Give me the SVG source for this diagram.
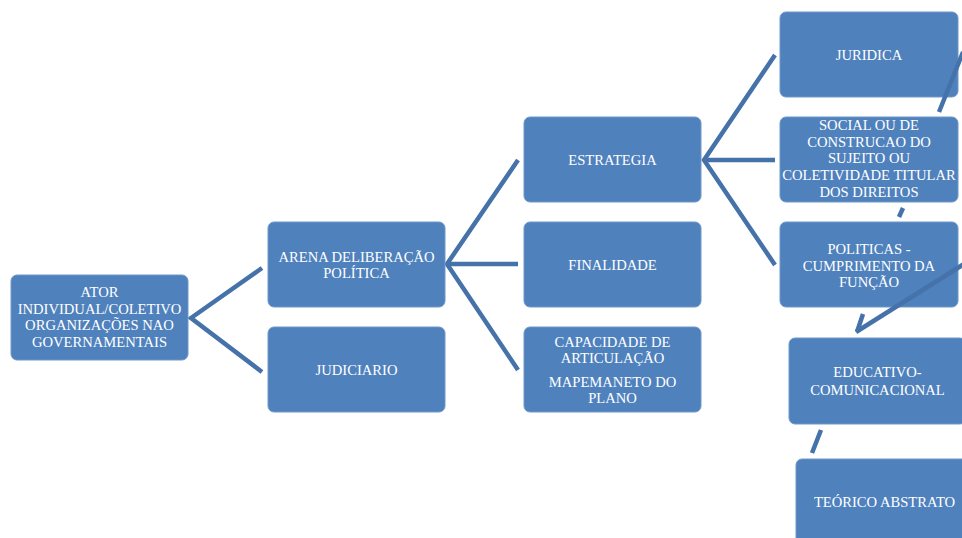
<svg xmlns="http://www.w3.org/2000/svg" width="962" height="538" viewBox="0 0 962 538">
<style>
.box{fill:#4f81bd;stroke:#6f97c9;stroke-width:1}
.t{font-family:"Liberation Serif","DejaVu Serif",serif;font-size:14.6px;fill:#ffffff;text-anchor:middle}
.c{fill:none;stroke:#4672aa;stroke-width:4.5;stroke-linejoin:miter;stroke-linecap:butt}
</style>
<rect width="962" height="538" fill="#ffffff"/>
<g id="connectors">
<polyline class="c" points="262,268 191,318 262,372"/>
<polyline class="c" points="518,160 447,264 518,370"/>
<line class="c" x1="447" y1="264" x2="518" y2="264"/>
<polyline class="c" points="775,55 704,160 775,265"/>
<line class="c" x1="704" y1="160" x2="775" y2="160"/>
</g>
<g id="n1"><rect class="box" x="11" y="275" width="177" height="85" rx="6"/>
<text class="t" x="99.5" y="297">ATOR</text>
<text class="t" x="99.5" y="313.5">INDIVIDUAL/COLETIVO</text>
<text class="t" x="99.5" y="330">ORGANIZAÇÕES NAO</text>
<text class="t" x="99.5" y="346.7">GOVERNAMENTAIS</text></g>
<g id="n2"><rect class="box" x="268" y="222" width="177" height="85" rx="6"/>
<text class="t" x="356.5" y="261.5">ARENA DELIBERAÇÃO</text>
<text class="t" x="356.5" y="278">POLÍTICA</text></g>
<g id="n3"><rect class="box" x="268" y="327" width="177" height="85" rx="6"/>
<text class="t" x="356.5" y="375">JUDICIARIO</text></g>
<g id="n4"><rect class="box" x="524" y="117" width="177" height="85" rx="6"/>
<text class="t" x="612.5" y="165">ESTRATEGIA</text></g>
<g id="n5"><rect class="box" x="524" y="222" width="177" height="85" rx="6"/>
<text class="t" x="612.5" y="270">FINALIDADE</text></g>
<g id="n6"><rect class="box" x="524" y="327" width="177" height="85" rx="6"/>
<text class="t" x="612.5" y="346.5">CAPACIDADE DE</text>
<text class="t" x="612.5" y="363">ARTICULAÇÃO</text>
<text class="t" x="612.5" y="386.5">MAPEMANETO DO</text>
<text class="t" x="612.5" y="403">PLANO</text></g>
<g id="n7"><rect class="box" x="780" y="12" width="178" height="85" rx="6"/>
<text class="t" x="869" y="60">JURIDICA</text></g>
<g id="n8"><rect class="box" x="780" y="117" width="178" height="85" rx="6"/>
<text class="t" x="869" y="130">SOCIAL OU DE</text>
<text class="t" x="869" y="146.7">CONSTRUCAO DO</text>
<text class="t" x="869" y="163.4">SUJEITO OU</text>
<text class="t" x="869" y="180.1">COLETIVIDADE TITULAR</text>
<text class="t" x="869" y="196.8">DOS DIREITOS</text></g>
<g id="n9"><rect class="box" x="780" y="222" width="178" height="85" rx="6"/>
<text class="t" x="869" y="254">POLITICAS -</text>
<text class="t" x="869" y="270.5">CUMPRIMENTO DA</text>
<text class="t" x="869" y="287">FUNÇÃO</text></g>
<g id="n10"><rect class="box" x="789" y="338" width="177" height="86" rx="6"/>
<text class="t" x="877.5" y="376.5">EDUCATIVO-</text>
<text class="t" x="877.5" y="395">COMUNICACIONAL</text></g>
<g id="n11"><rect class="box" x="796" y="459" width="177" height="86" rx="6"/>
<text class="t" x="884.5" y="506.5">TEÓRICO ABSTRATO</text></g>
<g id="stray-connectors">
<line class="c" x1="963" y1="52" x2="939" y2="112"/>
<line class="c" x1="903" y1="208" x2="899" y2="217"/>
<line class="c" x1="964" y1="264" x2="856" y2="332"/>
<line class="c" x1="863" y1="314" x2="857" y2="332"/>
<line class="c" x1="821" y1="430" x2="812" y2="453"/>
</g>
</svg>
